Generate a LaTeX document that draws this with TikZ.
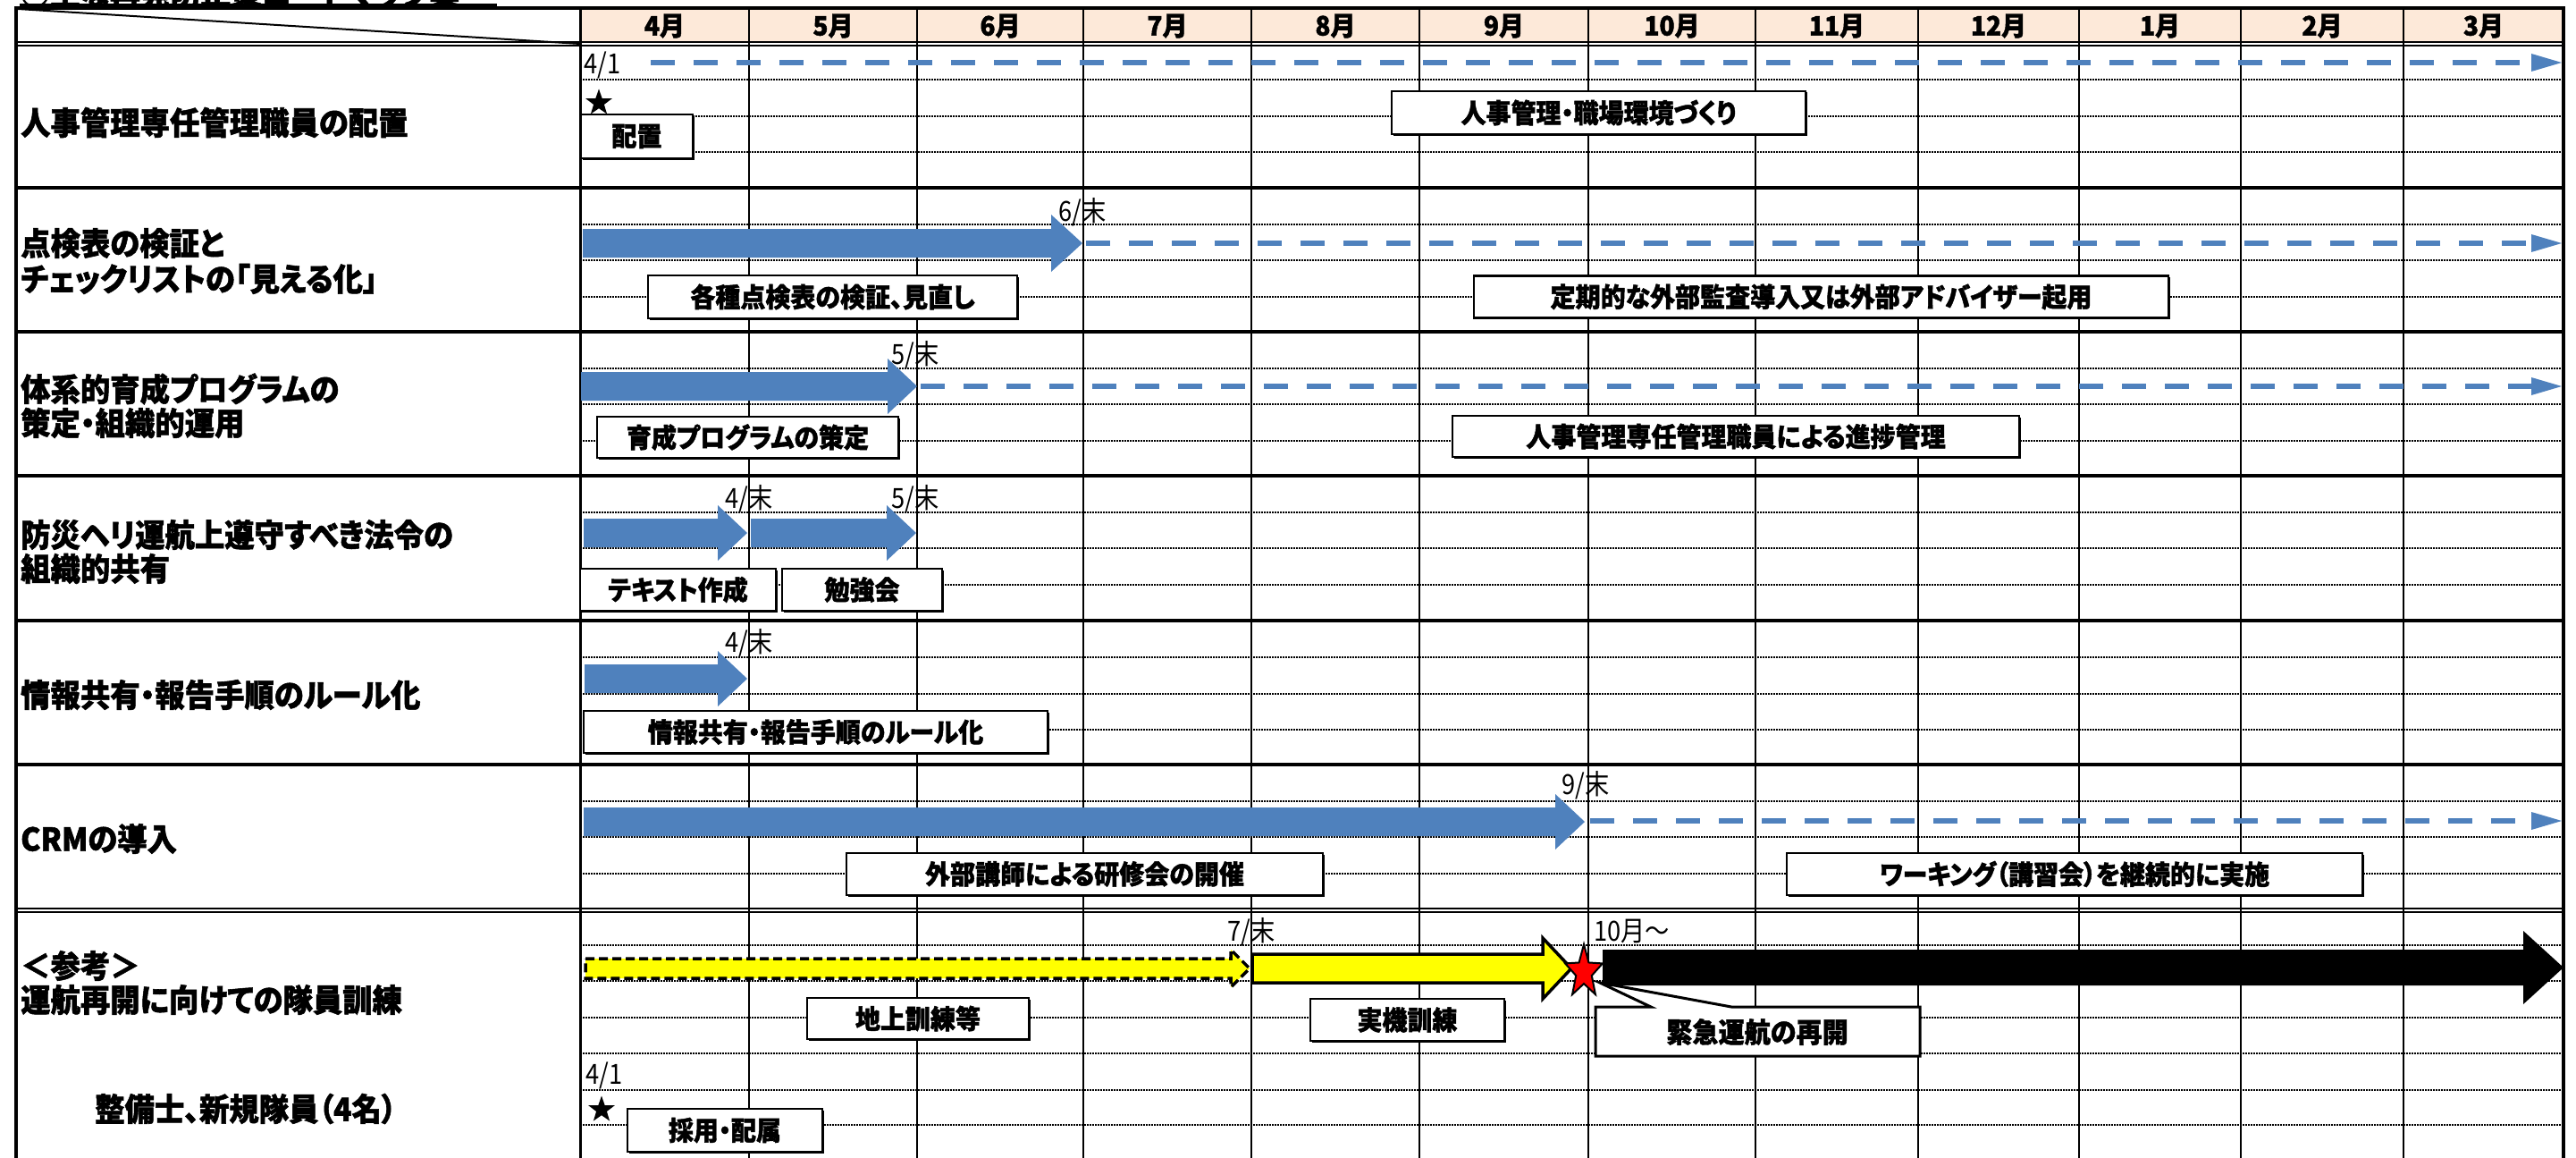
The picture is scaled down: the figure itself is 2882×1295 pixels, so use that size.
\documentclass[tikz,border=0pt]{standalone}
\usepackage{fontspec}
\newfontfamily\jpb[FakeStretch=0.94,RawFeature=+palt,BoldFeatures={FakeBold=1.5}]{Noto Sans CJK JP}
\newfontfamily\jpr[FakeStretch=0.88,RawFeature=+palt]{Noto Sans CJK JP}
\usetikzlibrary{shadows}
\definecolor{accblue}{HTML}{4F81BD}
\definecolor{hdrfill}{HTML}{FDE9D9}
\definecolor{ylw}{HTML}{FFFF00}
\definecolor{redstar}{HTML}{FF0000}
\tikzset{
  rowlbl/.style={anchor=west, inner sep=0pt, font=\jpb\bfseries\fontsize{35.5}{38}\selectfont},
  boxlbl/.style={draw=black, line width=2.5pt, fill=white, inner sep=0pt,
     font=\jpb\bfseries\fontsize{29.8}{32}\selectfont,
     general shadow={shadow xshift=1.5pt, shadow yshift=-1.5pt, fill=black}},
  datelbl/.style={inner sep=0pt, font=\jpr\fontsize{31}{33}\selectfont},
  monthlbl/.style={inner sep=0pt, font=\jpb\bfseries\fontsize{29.8}{32}\selectfont},
  dotgrid/.style={line width=1.6pt, black, dash pattern=on 1.7pt off 1.3pt},
  monthline/.style={line width=1.6pt, black},
  sepline/.style={line width=3.5pt, black},
  dblline/.style={line width=2pt, black},
  bluefill/.style={fill=accblue},
}
% block arrow: #1 style, #2 x start, #3 x tip, #4 y centre, #5 body half height, #6 head half height, #7 head length
\newcommand\tlarrow[7]{\path[#1] (#2,#4-#5) -- (#3-#7,#4-#5) -- (#3-#7,#4-#6) -- (#3,#4) -- (#3-#7,#4+#6) -- (#3-#7,#4+#5) -- (#2,#4+#5) -- cycle;}
% dashed blue continuation: #1 x start, #2 y, #3 x tip
\newcommand\tldash[3]{\draw[accblue, line width=6pt, dash pattern=on 27pt off 21pt] (#1,#2) -- (#3-33,#2);
  \fill[accblue] (#3-34,#2-10) -- (#3,#2) -- (#3-34,#2+10) -- cycle;}
% star: #1 style, #2 centre, #3 x radius, #4 y radius, #5 inner ratio
\newcommand\tlstar[5]{\begin{scope}[shift={#2}, xscale=#3, yscale=-#4]
  \path[#1] (90:1) -- (126:#5) -- (162:1) -- (198:#5) -- (234:1) -- (270:#5) -- (306:1) -- (342:#5) -- (18:1) -- (54:#5) -- cycle;
  \end{scope}}
\begin{document}
\begin{tikzpicture}[x=1pt, y=-1pt]
\useasboundingbox (0,0) rectangle (2882,1295);
\fill[white] (0,0) rectangle (2882,1295);
% title (cut off at the top, as in the original)
\node[anchor=south west, inner sep=0pt, font=\jpb\bfseries\fontsize{36}{38}\selectfont] (title) at (22,10) {○主な再発防止策ロードマップ案};
\draw[line width=2.5pt] (22,5.5) -- (556,5.5);
% header fill
\fill[hdrfill] (649,9) rectangle (2868,47);
% dotted grid lines
\foreach \yy in {89,130,170,251,291,332,412,452,493,573,613,654,735,776,816,896,936,977,1057,1097,1138,1178,1219,1258}
  \draw[dotgrid] (649,\yy) -- (2868,\yy);
% month lines
\foreach \xx in {838,1026,1212,1400,1588,1777,1964,2146,2326,2507,2689}
  \draw[monthline] (\xx,9) -- (\xx,1295);
% row separators
\foreach \yy in {210,371,532,694,855}
  \draw[sepline] (18,\yy) -- (2868,\yy);
\draw[dblline] (18,47.5) -- (2868,47.5);
\draw[dblline] (18,51.5) -- (2868,51.5);
\draw[dblline] (18,1016) -- (2868,1016);
\draw[dblline] (18,1020) -- (2868,1020);
% label divider and frame
\draw[line width=3pt] (649,9) -- (649,1295);
\draw[line width=4pt] (18,1295) -- (18,9) -- (2868,9) -- (2868,1295);
\draw[line width=2pt] (20,10) -- (649,49);
% month labels
\foreach \xc/\mm [count=\i] in {743.5/4月,932/5月,1119/6月,1306/7月,1494/8月,1682.5/9月,1870.5/10月,2055/11月,2236/12月,2416.5/1月,2598/2月,2778.5/3月}
  \node[monthlbl] (mon\i) at (\xc,29) {\mm};
% row labels
\node[rowlbl] (r1) at (23,137) {人事管理専任管理職員の配置};
\node[rowlbl] (r2a) at (23,272) {点検表の検証と};
\node[rowlbl] (r2b) at (23,312) {チェックリストの「見える化」};
\node[rowlbl] (r3a) at (23,435) {体系的育成プログラムの};
\node[rowlbl] (r3b) at (23,473) {策定・組織的運用};
\node[rowlbl] (r4a) at (23,598) {防災ヘリ運航上遵守すべき法令の};
\node[rowlbl] (r4b) at (23,636) {組織的共有};
\node[rowlbl] (r5) at (23,777) {情報共有・報告手順のルール化};
\node[rowlbl] (r6) at (23,938) {CRMの導入};
\node[rowlbl] (r7a) at (23,1080) {＜参考＞};
\node[rowlbl] (r7b) at (23,1118) {運航再開に向けての隊員訓練};
\node[rowlbl] (r7c) at (106,1240) {整備士、新規隊員（4名）};
% ---- row 1
\node[datelbl, anchor=west] (d1) at (653,73) {4/1};
\tldash{728}{70}{2866}
\tlstar{fill=black}{(670,115)}{15.5}{15.5}{0.4}
\node[boxlbl, minimum width=125pt, minimum height=49pt] (b1) at (712.5,152.5) {配置};
\node[boxlbl, minimum width=463pt, minimum height=48pt] (b2) at (1788.5,126) {人事管理・職場環境づくり};
% ---- row 2
\tlarrow{bluefill}{652}{1211}{272}{16}{32}{35}
\tldash{1215}{272}{2866}
\node[datelbl] (d2) at (1211,237) {6/末};
\node[boxlbl, minimum width=413pt, minimum height=48pt] (b3) at (931.5,332) {各種点検表の検証、見直し};
\node[boxlbl, minimum width=777pt, minimum height=47pt] (b4) at (2037.5,332) {定期的な外部監査導入又は外部アドバイザー起用};
% ---- row 3
\tlarrow{bluefill}{650}{1026}{432}{16}{31}{33}
\tldash{1030}{432}{2866}
\node[datelbl] (d3) at (1024,397) {5/末};
\node[boxlbl, minimum width=337pt, minimum height=46pt] (b5) at (836.5,489) {育成プログラムの策定};
\node[boxlbl, minimum width=634pt, minimum height=46pt] (b6) at (1942,488) {人事管理専任管理職員による進捗管理};
% ---- row 4
\tlarrow{bluefill}{653}{836}{596}{16}{31}{33}
\tlarrow{bluefill}{840}{1025}{596}{16}{31}{33}
\node[datelbl] (d4) at (838,558) {4/末};
\node[datelbl] (d5) at (1024,558) {5/末};
\node[boxlbl, minimum width=219pt, minimum height=47pt] (b7) at (758.5,659.5) {テキスト作成};
\node[boxlbl, minimum width=179pt, minimum height=47pt] (b8) at (964.5,659.5) {勉強会};
% ---- row 5
\tlarrow{bluefill}{654}{836}{759}{16}{31}{33}
\node[datelbl] (d6) at (838,719) {4/末};
\node[boxlbl, minimum width=519pt, minimum height=47pt] (b9) at (912.5,818.5) {情報共有・報告手順のルール化};
% ---- row 6
\tlarrow{bluefill}{653}{1773}{919}{16}{31}{33}
\tldash{1779}{918}{2866}
\node[datelbl] (d7) at (1774,878) {9/末};
\node[boxlbl, minimum width=533pt, minimum height=47pt] (b10) at (1213.5,977.5) {外部講師による研修会の開催};
\node[boxlbl, minimum width=644pt, minimum height=47pt] (b11) at (2321,977.5) {ワーキング（講習会）を継続的に実施};
% ---- row 7
\tlarrow{fill=ylw, draw=black, line width=3.5pt, dash pattern=on 10pt off 5pt}{655}{1398}{1083}{11}{21}{21}
\tlarrow{fill=ylw, draw=black, line width=3.5pt, line join=miter}{1401}{1758}{1083}{16}{34}{32}
\tlarrow{fill=black}{1793}{2868}{1082}{20}{41}{45}
\node[datelbl] (d8) at (1400,1042) {7/末};
\node[datelbl, anchor=west] (d9) at (1783,1042) {10月～};
\path[draw=black, line width=3pt, fill=white, line join=miter]
  (1785,1126) -- (1847,1126) -- (1790,1099) -- (1937,1126) -- (2148,1126) -- (2148,1181) -- (1785,1181) -- cycle;
\node[inner sep=0pt, font=\jpb\bfseries\fontsize{31}{33}\selectfont] (b14) at (1966,1154) {緊急運航の再開};
\tlstar{fill=redstar, draw=black, line width=2pt}{(1772,1087)}{22}{31}{0.42}
\node[boxlbl, minimum width=248pt, minimum height=46pt] (b12) at (1027,1139) {地上訓練等};
\node[boxlbl, minimum width=217pt, minimum height=47pt] (b13) at (1574.5,1140.5) {実機訓練};
\node[datelbl, anchor=west] (d10) at (655,1203) {4/1};
\tlstar{fill=black}{(673,1241)}{15.5}{15.5}{0.4}
\node[boxlbl, minimum width=218pt, minimum height=48pt] (b15) at (811,1264) {採用・配属};
\end{tikzpicture}
\end{document}
